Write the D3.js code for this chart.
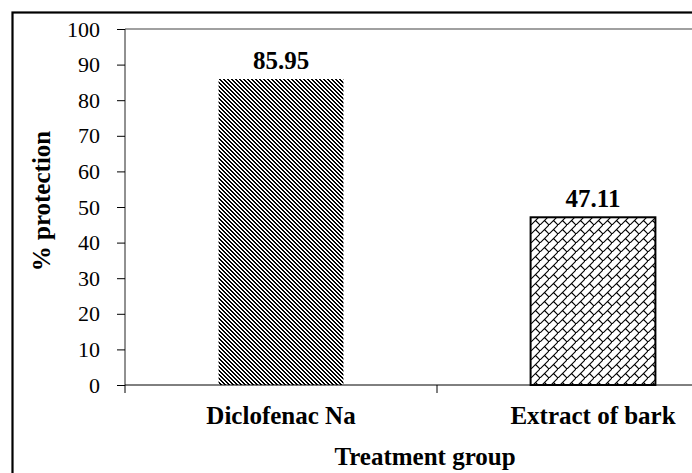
<!DOCTYPE html>
<html>
<head>
<meta charset="utf-8">
<script src="https://cdn.jsdelivr.net/npm/d3@7"></script>
<style>
  body { margin: 0; background: #fff; }
  svg { display: block; }
  svg text { font-family: "Liberation Serif", "Times New Roman", Times, serif !important; fill: #000; }
</style>
</head>
<body>
<div id="chart"></div>
<script>
const categories = ["Diclofenac Na", "Extract of bark"];
const values = [85.95, 47.11];
const valueLabels = ["85.95", "47.11"];
const yTicks = [0, 10, 20, 30, 40, 50, 60, 70, 80, 90, 100];
const xTitle = "Treatment group";
const yTitle = "% protection";

(function () {
const W = 692, H = 473;
const svg = d3.select("#chart").append("svg").attr("width", W).attr("height", H);

const defs = svg.append("defs");
// dark downward diagonal
const p1 = defs.append("pattern").attr("id", "pDiag").attr("patternUnits", "userSpaceOnUse")
  .attr("width", 4).attr("height", 4);
p1.append("rect").attr("width", 4).attr("height", 4).attr("fill", "#fff");
[[0,0],[1,0],[1,1],[2,1],[2,2],[3,2],[3,3],[0,3]].forEach(([cx, cy]) => {
  p1.append("rect").attr("x", cx).attr("y", cy).attr("width", 1).attr("height", 1)
    .attr("fill", "#000").attr("shape-rendering", "crispEdges");
});
// diagonal brick
const p2 = defs.append("pattern").attr("id", "pBrick").attr("patternUnits", "userSpaceOnUse")
  .attr("width", 9).attr("height", 9);
p2.append("rect").attr("width", 9).attr("height", 9).attr("fill", "#fff");
p2.append("path").attr("d", "M-1,10 L10,-1 M4.5,4.5 L9,9")
  .attr("stroke", "#000").attr("stroke-width", 1.1).attr("fill", "none");

// frame
svg.append("rect").attr("x", 12.5).attr("y", 12.5).attr("width", 720).attr("height", 520)
  .attr("fill", "none").attr("stroke", "#000").attr("stroke-width", 2.2);

const pl = 125, pr = 749, pt = 29, pb = 385;
const x = d3.scaleBand().domain(categories).range([pl, pr]).padding(0);
const y = d3.scaleLinear().domain([0, 100]).range([pb, pt]);

// plot area top border (gray)
svg.append("line").attr("x1", pl).attr("x2", pr).attr("y1", y(100)).attr("y2", y(100))
  .attr("stroke", "#808080").attr("stroke-width", 1.5);

// bars
const barW = x.bandwidth() * 0.4;
const patterns = ["url(#pDiag)", "url(#pBrick)"];
svg.selectAll("rect.bar").data(values).enter().append("rect")
  .attr("class", "bar")
  .attr("x", (d, i) => x(categories[i]) + (x.bandwidth() - barW) / 2)
  .attr("y", d => y(d))
  .attr("width", barW)
  .attr("height", d => y(0) - y(d))
  .attr("fill", (d, i) => patterns[i])
  .attr("stroke", (d, i) => i === 1 ? "#000" : "none")
  .attr("stroke-width", 2);

// value labels
svg.selectAll("text.val").data(values).enter().append("text")
  .attr("class", "val")
  .attr("x", (d, i) => x(categories[i]) + x.bandwidth() / 2)
  .attr("y", d => y(d) - 10)
  .attr("text-anchor", "middle")
  .attr("font-weight", "bold")
  .attr("font-size", 25)
  .text((d, i) => valueLabels[i]);

// y axis
const yAxis = svg.append("g").attr("transform", `translate(${pl},0)`)
  .call(d3.axisLeft(y).tickValues(yTicks).tickSize(8).tickPadding(17).tickFormat(d3.format("d")));
yAxis.selectAll("text").attr("font-size", 22);
yAxis.selectAll("line").attr("stroke", "#000");
yAxis.select(".domain").attr("stroke", "#222").attr("d", `M0,${pt}V${pb}`);

// x axis
const xAxis = svg.append("g").attr("transform", `translate(0,${pb})`)
  .call(d3.axisBottom(x).tickSize(0).tickPadding(0));
xAxis.select(".domain").attr("d", `M${pl},0H${pr}`).attr("stroke", "#000");
xAxis.selectAll("text").attr("y", 39).attr("dy", 0)
  .attr("font-size", 25).attr("font-weight", "bold");
// boundary ticks
xAxis.selectAll("line.bt").data(categories).enter().append("line")
  .attr("class", "bt")
  .attr("x1", d => x(d)).attr("x2", d => x(d))
  .attr("y1", 0).attr("y2", 8).attr("stroke", "#000");

// titles
svg.append("text").attr("x", 425).attr("y", 465).attr("text-anchor", "middle")
  .attr("font-size", 25).attr("font-weight", "bold").text(xTitle);
svg.append("text").attr("transform", "translate(50,201) rotate(-90)")
  .attr("text-anchor", "middle").attr("font-size", 25).attr("font-weight", "bold").text(yTitle);
})();
</script>
</body>
</html>
